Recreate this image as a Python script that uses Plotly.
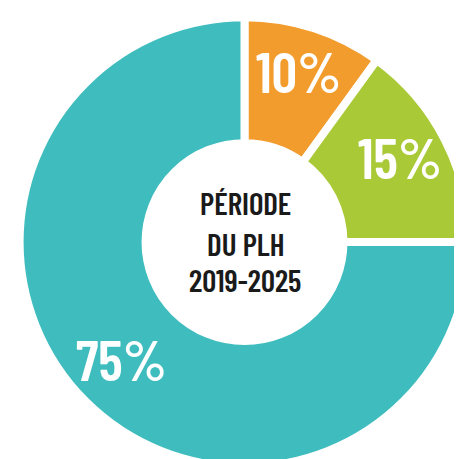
import math
import plotly.graph_objects as go

labels = ["10%", "15%", "75%"]
values = [10, 15, 75]
colors = ["#F39C2E", "#AAC936", "#3FBDBE"]
center_lines = ["PÉRIODE", "DU PLH", "2019-2025"]

FONT = "Barlow Condensed, Asap Condensed, Archivo Narrow, sans-serif"
W, H = 462, 459
DOM_X = [11 / W, 1]
DOM_Y = [0, 0.98]

fig = go.Figure(go.Pie(
    labels=labels, values=values, sort=False, direction="clockwise", rotation=0,
    hole=0.44, marker=dict(colors=colors, line=dict(color="white", width=8)),
    textinfo="none", domain=dict(x=DOM_X, y=DOM_Y),
    showlegend=False, hoverinfo="skip",
))

# pie geometry in pixels (derived from the domain)
dw = (DOM_X[1] - DOM_X[0]) * W
dh = (DOM_Y[1] - DOM_Y[0]) * H
cx = DOM_X[0] * W + dw / 2
cy = H - (DOM_Y[0] * H + dh / 2)
R_LABEL = 174

total = sum(values)
start = 0.0
for lab, v in zip(labels, values):
    mid = (start + v / 2) / total * 2 * math.pi
    start += v
    px = cx + R_LABEL * math.sin(mid)
    py = cy - R_LABEL * math.cos(mid)
    fig.add_annotation(text=lab, x=px / W, y=1 - py / H, xref="paper", yref="paper",
                       showarrow=False, xanchor="center", yanchor="middle", yshift=7,
                       font=dict(family=FONT, size=57, color="white", weight=600))

ys = [194, 235, 271]
for line, y in zip(center_lines, ys):
    fig.add_annotation(text=line, x=237 / W, y=1 - y / H, xref="paper", yref="paper",
                       showarrow=False, xanchor="center", yanchor="middle",
                       font=dict(family=FONT, size=31, color="#1a1a1a", weight=600))

fig.update_layout(width=W, height=H, margin=dict(l=0, r=0, t=0, b=0),
                  paper_bgcolor="white", plot_bgcolor="white")
fig.write_html("out.html")
